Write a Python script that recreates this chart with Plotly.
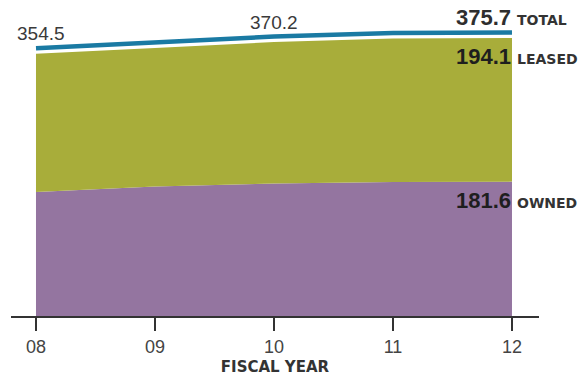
import plotly.graph_objects as go

years = [8, 9, 10, 11, 12]
year_labels = ["08", "09", "10", "11", "12"]
total = [354.5, 362.0, 370.2, 375.0, 375.7]
owned = [167.6, 174.9, 179.0, 181.0, 181.6]
leased = [round(t - o, 1) for t, o in zip(total, owned)]

BLUE = "#1a7aa3"
GREEN = "#a8ad3a"
PURPLE = "#9475a0"
DARK = "#333333"

NUM_FONT = "Liberation Sans, Arial, sans-serif"
CAPS = "DejaVu Sans, Verdana, sans-serif"

Y_MAX = 400.0
SHIFT = 7.4  # total line drawn slightly above the stacked areas

fig = go.Figure()
fig.add_trace(go.Scatter(x=years, y=owned, stackgroup="one", mode="none",
                         fillcolor=PURPLE, hoverinfo="skip", name="Owned"))
fig.add_trace(go.Scatter(x=years, y=leased, stackgroup="one", mode="none",
                         fillcolor=GREEN, hoverinfo="skip", name="Leased"))
fig.add_trace(go.Scatter(x=years, y=total, mode="lines", yaxis="y2",
                         line=dict(color=BLUE, width=4.5), hoverinfo="skip",
                         name="Total"))

ann = []
ann.append(dict(x=years[0], y=total[0], text="354.5", xshift=5, yshift=20,
                font=dict(family=NUM_FONT, size=19, color="#3a3a3a")))
ann.append(dict(x=years[2], y=total[2], text="370.2", xshift=0, yshift=20,
                font=dict(family=NUM_FONT, size=19, color="#3a3a3a")))
ann.append(dict(x=years[-1], y=total[-1], text="<b>375.7</b>", xanchor="right",
                xshift=1, yshift=20,
                font=dict(family=NUM_FONT, size=22, color="#2e2e2e")))
ann.append(dict(x=years[-1], y=total[-1], text="<b>TOTAL</b>", xanchor="left",
                xshift=3, yshift=18,
                font=dict(family=CAPS, size=14, color=DARK)))
ann.append(dict(x=years[-1], y=total[-1], text="<b>194.1</b>", xanchor="right",
                xshift=1, yshift=-19,
                font=dict(family=NUM_FONT, size=22, color="#1e1e1e")))
ann.append(dict(x=years[-1], y=total[-1], text="<b>LEASED</b>", xanchor="left",
                xshift=3, yshift=-21,
                font=dict(family=CAPS, size=14, color=DARK)))
ann.append(dict(x=years[-1], y=owned[-1], text="<b>181.6</b>", xanchor="right",
                xshift=1, yshift=-19,
                font=dict(family=NUM_FONT, size=22, color="#1e1e1e")))
ann.append(dict(x=years[-1], y=owned[-1], text="<b>OWNED</b>", xanchor="left",
                xshift=3, yshift=-21,
                font=dict(family=CAPS, size=14, color=DARK)))
for a in ann:
    a.update(xref="x", yref="y", showarrow=False, yanchor="middle")
    a.setdefault("xanchor", "center")

fig.update_layout(
    width=584, height=384,
    margin=dict(l=11, r=45, t=20, b=68),
    paper_bgcolor="white", plot_bgcolor="white",
    showlegend=False,
    annotations=ann,
    xaxis=dict(
        range=[7.79, 12.227], tickmode="array", tickvals=years, ticktext=year_labels,
        showgrid=False, zeroline=False, showline=True, linecolor=DARK, linewidth=2,
        ticks="outside", ticklen=13, tickwidth=2, tickcolor=DARK,
        tickfont=dict(family=NUM_FONT, size=18, color="#444444"),
        title=dict(text="<b>FISCAL YEAR</b>", standoff=6,
                   font=dict(family=CAPS, size=15, color=DARK)),
        fixedrange=True,
    ),
    yaxis=dict(range=[0, Y_MAX], visible=False, showgrid=False, zeroline=False,
               fixedrange=True),
    yaxis2=dict(range=[-SHIFT, Y_MAX - SHIFT], overlaying="y", visible=False,
                showgrid=False, zeroline=False, fixedrange=True),
)

fig.write_html("out.html")
